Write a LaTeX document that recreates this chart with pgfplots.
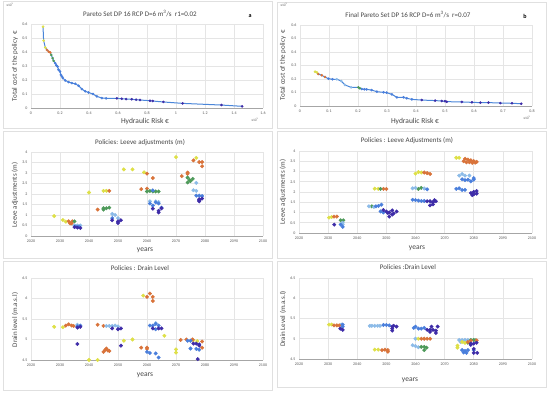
\documentclass[border=0pt]{standalone}
\usepackage{fontspec}
\setmainfont{Carlito}
\usepackage{pgfplots}
\pgfplotsset{compat=1.18}
\definecolor{yel}{RGB}{222,224,70}
\definecolor{ora}{RGB}{217,115,58}
\definecolor{grn}{RGB}{78,154,90}
\definecolor{lbl}{RGB}{140,187,232}
\definecolor{blu}{RGB}{74,127,220}
\definecolor{pur}{RGB}{62,44,168}
\definecolor{lin}{RGB}{74,134,217}
\definecolor{txt}{RGB}{70,70,70}
\pgfplotsset{
  pan/.style={scale only axis, anchor=south west,
    axis x line*=bottom, axis y line*=left,
    x axis line style={draw=black!35,-,line width=0.6pt},
    y axis line style={draw=none},
    grid=major, grid style={draw=black!10,line width=0.5pt},
    major tick length=0pt,
    tick label style={font=\fontsize{4}{4}\selectfont, text=black!65},
    /pgf/number format/assume math mode=true,
    /pgf/number format/1000 sep={},
    scaled ticks=false, clip=false},
  pm/.style={only marks, mark=*, mark size=1.75pt},
  pp/.style={only marks, mark=*, mark size=1.1pt},
  yrs/.style={xmin=2020,xmax=2100,xtick={2020,2030,2040,2050,2060,2070,2080,2090,2100}},
}
\newcommand{\ttl}[3]{\node[font=\fontsize{7}{8}\selectfont, text=txt] at (#1pt,#2pt) {#3};}
\newcommand{\lab}[3]{\node[font=\fontsize{7.5}{8}\selectfont, text=txt] at (#1pt,#2pt) {#3};}
\newcommand{\ylab}[3]{\node[font=\fontsize{7}{8}\selectfont, text=txt, rotate=90] at (#1pt,#2pt) {#3};}
\newcommand{\sml}[3]{\node[font=\fontsize{3.5}{4}\selectfont, text=black!65] at (#1pt,#2pt) {#3};}
\begin{document}
\begin{tikzpicture}[x=1pt,y=1pt]
\useasboundingbox (0,0) rectangle (550,393);
\fill[white] (0,0) rectangle (550,393);
% panel frames
\draw[black!12,line width=0.6pt] (3,265) rectangle (272,392);
\draw[black!12,line width=0.6pt] (277,265) rectangle (546,391);
\draw[black!12,line width=0.6pt] (3,135) rectangle (272,262);
\draw[black!12,line width=0.6pt] (277,135) rectangle (546,262);
\draw[black!12,line width=0.6pt] (3,3) rectangle (272,132);
\draw[black!12,line width=0.6pt] (277,6) rectangle (546,132);

% ---------------- panel a
\begin{axis}[pan, at={(31pt,285pt)}, width=232pt, height=84pt,
  xmin=0,xmax=1.6,ymin=0,ymax=0.6,
  xtick={0,0.2,0.4,0.6,0.8,1,1.2,1.4,1.6}, ytick={0,0.1,0.2,0.3,0.4,0.5,0.6}]
\addplot[lin, line width=1pt, no marks] coordinates {
(0.083,0.581)(0.087,0.481)(0.099,0.432)(0.110,0.415)(0.122,0.403)(0.133,0.396)
(0.140,0.379)(0.149,0.356)(0.156,0.337)(0.167,0.320)(0.183,0.296)(0.190,0.273)
(0.200,0.261)(0.206,0.237)(0.220,0.213)(0.236,0.197)(0.259,0.185)(0.282,0.178)
(0.305,0.173)(0.328,0.159)(0.351,0.135)(0.374,0.119)(0.397,0.111)(0.427,0.100)
(0.454,0.083)(0.489,0.071)(0.518,0.069)(0.592,0.069)(0.626,0.066)(0.656,0.064)
(0.695,0.062)(0.725,0.059)(0.752,0.057)(0.821,0.052)(0.839,0.050)(0.913,0.043)
(1.046,0.033)(1.314,0.021)(1.456,0.012)};
\addplot[pp, blu] coordinates {
(0.167,0.320)(0.175,0.305)(0.183,0.296)(0.190,0.273)(0.200,0.261)(0.206,0.237)(0.213,0.225)
(0.220,0.213)(0.236,0.197)(0.259,0.185)(0.282,0.178)(0.305,0.173)(0.328,0.159)
(0.351,0.135)(0.374,0.119)(0.397,0.111)(0.427,0.100)(0.454,0.083)(0.489,0.071)(0.518,0.069)};
\addplot[pp, pur] coordinates {
(0.592,0.069)(0.626,0.066)(0.656,0.064)(0.695,0.062)(0.725,0.059)(0.752,0.057)
(0.821,0.052)(0.839,0.050)(0.913,0.043)(1.046,0.033)(1.314,0.021)(1.456,0.012)};
\addplot[pp, ora] coordinates {(0.110,0.415)(0.122,0.403)(0.133,0.396)};
\addplot[pp, grn] coordinates {(0.140,0.379)(0.149,0.356)(0.156,0.337)};
\addplot[pp, yel] coordinates {(0.083,0.581)(0.087,0.481)(0.099,0.432)};
\end{axis}

% ---------------- panel b
\begin{axis}[pan, at={(300pt,287pt)}, width=232pt, height=81pt,
  xmin=0,xmax=0.8,ymin=0,ymax=0.6,
  xtick={0,0.1,0.2,0.3,0.4,0.5,0.6,0.7,0.8}, ytick={0,0.1,0.2,0.3,0.4,0.5,0.6}]
\addplot[lin, line width=1pt, no marks] coordinates {
(0.052,0.254)(0.058,0.249)(0.063,0.237)(0.075,0.227)(0.086,0.215)(0.098,0.202)
(0.112,0.198)(0.127,0.198)(0.142,0.185)(0.155,0.156)(0.176,0.138)(0.201,0.138)
(0.213,0.126)(0.230,0.123)(0.247,0.118)(0.265,0.106)(0.288,0.101)(0.299,0.099)
(0.317,0.086)(0.334,0.064)(0.357,0.064)(0.368,0.057)(0.386,0.049)(0.420,0.044)
(0.466,0.040)(0.489,0.037)(0.506,0.032)(0.558,0.030)(0.593,0.027)(0.622,0.025)
(0.650,0.025)(0.691,0.022)(0.731,0.020)(0.763,0.017)};
\addplot[pp, blu] coordinates {
(0.098,0.202)(0.112,0.198)(0.213,0.126)(0.222,0.124)(0.230,0.123)(0.247,0.118)(0.265,0.106)
(0.288,0.101)(0.299,0.099)(0.317,0.086)(0.334,0.064)(0.357,0.064)(0.368,0.057)(0.386,0.049)};
\addplot[pp, pur] coordinates {
(0.420,0.044)(0.466,0.040)(0.489,0.037)(0.500,0.036)(0.506,0.032)(0.558,0.030)(0.593,0.027)
(0.622,0.025)(0.650,0.025)(0.691,0.022)(0.731,0.020)(0.763,0.017)};
\addplot[pp, lbl] coordinates {(0.127,0.198)(0.142,0.185)(0.155,0.156)(0.176,0.138)};
\addplot[pp, grn] coordinates {(0.201,0.138)(0.206,0.132)};
\addplot[pp, ora] coordinates {(0.063,0.237)(0.075,0.227)(0.086,0.215)};
\addplot[pp, yel] coordinates {(0.052,0.254)(0.058,0.249)};
\end{axis}

% ---------------- panel c
\begin{axis}[pan, yrs, at={(31pt,157pt)}, width=232pt, height=84pt,
  ymin=0,ymax=4, ytick={0,0.5,1,1.5,2,2.5,3,3.5,4}]
\addplot[pm, yel] coordinates {(2028,0.95)(2031,0.76)(2032,0.68)(2040,2.07)(2045,2.15)(2046,2.15)(2052,3.17)(2055,3.17)(2059,3.03)(2070,3.76)(2077,3.72)};
\addplot[pm, ora] coordinates {(2033,0.7)(2033.5,0.6)(2034,0.6)(2034.3,0.7)(2043,1.26)(2047,2.15)(2058,2.23)(2060,2.97)(2060,2.26)(2062,2.76)(2076,3.6)(2078,3.52)(2079,3.52)(2079,3.32)(2072,2.85)(2074,3.02)(2074,2.96)};
\addplot[pm, grn] coordinates {(2035,0.7)(2045,1.32)(2046,1.32)(2047,1.35)(2045,1.26)(2060,2.12)(2061,2.14)(2062,2.12)(2063,2.12)(2064,2.12)(2074,2.78)(2074.7,2.66)(2075.8,2.72)(2074,2.55)(2075,2.62)};
\addplot[pm, lbl] coordinates {(2035,0.5)(2036,0.5)(2037,0.5)(2048,1.05)(2049,1.0)(2050,0.85)(2061,1.65)(2063,1.65)(2064,1.62)(2077,2.53)(2076,2.18)(2077,2.15)};
\addplot[pm, blu] coordinates {(2035.5,0.45)(2036.5,0.45)(2048,0.85)(2061,1.55)(2062,1.45)(2064,1.55)(2063,1.6)(2065,1.35)(2062,2.17)(2077,1.92)(2078,1.92)(2079,1.9)};
\addplot[pm, pur] coordinates {(2035,0.42)(2036,0.4)(2037,0.38)(2048,0.75)(2050,0.62)(2051,0.75)(2050,0.7)(2062,1.3)(2064,1.2)(2064,1.12)(2065,1.32)(2078,1.7)(2078,1.75)(2079,1.78)(2078,1.65)};
\end{axis}

% ---------------- panel d
\begin{axis}[pan, yrs, at={(299pt,160pt)}, width=233pt, height=82pt,
  ymin=0,ymax=4, ytick={0,0.5,1,1.5,2,2.5,3,3.5,4}]
\addplot[pm, yel] coordinates {(2030.3,0.75)(2031.2,0.78)(2046,2.16)(2047.2,2.15)(2060,2.9)(2061,2.97)(2062,2.95)(2074,3.67)(2075,3.67)};
\addplot[pm, ora] coordinates {(2032,0.8)(2033,0.8)(2049,2.15)(2050,2.15)(2063,2.95)(2064,2.92)(2065,2.88)(2077,3.62)(2078,3.58)(2079,3.55)(2080,3.5)(2081,3.47)(2076.5,3.5)(2077.5,3.45)(2078.5,3.45)(2079.5,3.42)(2080.5,3.43)};
\addplot[pm, grn] coordinates {(2034.3,0.62)(2035.2,0.62)(2045,1.3)(2061,2.15)(2062,2.2)(2048,2.15)};
\addplot[pm, lbl] coordinates {(2035,0.5)(2044,1.3)(2045.7,1.27)(2059,2.18)(2060,2.2)(2063,2.17)(2075,2.8)(2076,2.88)(2077,2.8)(2078.5,2.8)(2035,0.42)};
\addplot[pm, blu] coordinates {(2034.3,0.41)(2035,0.3)(2046.4,1.3)(2047.3,1.32)(2048.3,1.38)(2048,1.05)(2049,1.0)(2059,1.62)(2060,1.6)(2061,1.58)(2062,1.56)(2063,1.56)(2064,2.13)(2076,2.62)(2077,2.58)(2078,2.6)(2079,2.52)(2080,2.6)(2080,2.68)(2074,2.15)(2075,2.18)(2076,2.1)(2077,2.1)};
\addplot[pm, pur] coordinates {(2032.1,0.41)(2050,1.05)(2050.5,0.98)(2051,1.0)(2052,1.1)(2052.5,0.95)(2053.5,1.05)(2051,0.8)(2052,0.9)(2049,1.12)(2064,1.55)(2065,1.55)(2066,1.5)(2067,1.55)(2065,1.35)(2066,1.4)(2066.5,1.6)(2079,1.95)(2079.5,1.85)(2080,2.0)(2081,2.05)(2081,1.92)(2080,1.88)};
\end{axis}

% ---------------- panel e
\begin{axis}[pan, yrs, at={(31pt,33pt)}, width=232pt, height=82pt,
  ymin=4.5,ymax=6.5, ytick={4.5,5,5.5,6,6.5}]
\addplot[pm, yel] coordinates {(2028,5.31)(2031,5.3)(2040,4.5)(2043,4.5)(2052,4.97)(2055,5.0)(2058.7,6.07)(2066,5.09)(2070,4.76)(2070,4.68)(2076,4.98)(2077.3,4.96)};
\addplot[pm, ora] coordinates {(2032,5.34)(2033,5.37)(2034,5.34)(2034.7,5.33)(2043,5.36)(2045,5.33)(2045,4.7)(2046,4.78)(2046.5,4.73)(2047,4.72)(2045.5,4.74)(2058,4.8)(2060,4.8)(2060,4.77)(2060,6.04)(2061,6.12)(2062,6.04)(2062,5.94)(2071.6,4.99)(2073.6,5.0)(2075.7,5.0)(2079,4.95)(2079,4.8)};
\addplot[pm, lbl] coordinates {(2036,5.36)(2046,5.33)(2047,5.33)(2048,5.33)(2049,5.34)(2050,5.32)(2063,5.4)};
\addplot[pm, blu] coordinates {(2036,5.32)(2037,5.34)(2061,5.34)(2062,5.34)(2063,5.38)(2064,5.34)(2063,5.25)(2060,4.7)(2061,4.67)(2063,4.66)(2064,4.56)(2074,4.97)(2075,4.97)(2075,4.78)(2077,4.77)(2078,4.75)};
\addplot[pm, pur] coordinates {(2036,5.29)(2037,5.31)(2036,4.89)(2048,5.27)(2050,5.25)(2051,5.27)(2051,4.85)(2062,5.27)(2064,5.27)(2065,5.27)(2076,4.9)(2077,4.9)(2078,4.85)(2078,4.88)(2077.5,4.52)};
\end{axis}

% ---------------- panel f
\begin{axis}[pan, yrs, at={(299pt,34pt)}, width=233pt, height=81pt,
  ymin=4.5,ymax=6.5, ytick={4.5,5,5.5,6,6.5}]
\addplot[pm, lbl] coordinates {(2034.5,5.35)(2044.3,5.32)(2045,5.32)(2046,5.32)(2047,5.32)(2047.8,5.32)(2060,5.0)(2059,4.84)(2060,4.82)(2061,4.79)(2075,4.97)(2076,4.97)(2077,4.97)(2078,4.97)(2075.5,4.92)(2076.8,4.92)};
\addplot[pm, grn] coordinates {(2062,4.8)(2063,4.8)(2063.8,4.78)(2063,4.72)(2079,4.97)(2080,4.97)(2080.6,4.96)(2078,4.9)};
\addplot[pm, yel] coordinates {(2030.3,5.35)(2031.2,5.35)(2046,4.73)(2047.2,4.73)(2061,5.0)(2074.4,4.83)(2074.4,4.78)(2076,4.92)(2077,4.9)};
\addplot[pm, ora] coordinates {(2032,5.33)(2033,5.33)(2033.8,5.33)(2048.5,4.72)(2049.5,4.73)(2050.5,4.72)(2050.5,4.68)(2062,5.0)(2063,5.0)(2064,5.0)(2065,5.0)(2081,4.96)(2078,4.92)(2079,4.95)};
\addplot[pm, blu] coordinates {(2035,5.35)(2035,5.3)(2049,5.34)(2050,5.34)(2051,5.33)(2059.4,5.27)(2060,5.3)(2061,5.25)(2062,5.25)(2063,5.27)(2076,4.72)(2077,4.7)(2078,4.72)(2077.5,4.65)(2076.5,4.66)(2080,4.72)};
\addplot[pm, pur] coordinates {(2034.2,5.25)(2035,5.22)(2052,5.3)(2052,5.25)(2052,5.2)(2053.5,5.3)(2052.5,5.32)(2064,5.22)(2065,5.22)(2066,5.22)(2065.5,5.3)(2067,5.2)(2067,5.14)(2067.6,5.3)(2065,5.17)(2079,4.85)(2080,4.88)(2081,4.9)(2080,4.75)(2080,4.65)(2081.2,4.65)(2079,4.88)};
\end{axis}

% ---------------- texts
\ttl{140}{379}{Pareto Set DP 16 RCP D=6 m\textsuperscript{3}/s\ \ r1=0.02}
\node[font=\bfseries\fontsize{6}{6}\selectfont] at (250pt,377pt) {a};
\sml{10}{388}{x10\textsuperscript{5}}
\sml{255}{273}{x10\textsuperscript{5}}
\ylab{15}{327}{Total cost of the policy\ \ €}
\lab{145}{271}{Hydraulic Risk €}

\ttl{408}{378}{Final Pareto Set DP 16 RCP D=6 m\textsuperscript{3}/s\ \ r=0.07}
\node[font=\bfseries\fontsize{6}{6}\selectfont] at (525pt,377pt) {b};
\sml{284}{388}{x10\textsuperscript{5}}
\sml{527}{275}{x10\textsuperscript{5}}
\ylab{283}{328}{Total cost of the policy\ \ €}
\lab{415}{271}{Hydraulic Risk €}

\ttl{140}{250}{Policies: Leeve adjustments (m)}
\ylab{15}{198}{Leeve adjustments (m)}
\lab{145}{143}{years}

\ttl{407}{252}{Policies : Leeve Adjustments (m)}
\ylab{283}{201}{Leeve adjustments (m)}
\lab{417}{145}{years}

\ttl{140}{125}{Policies : Drain Level}
\ylab{15}{73}{Drain level (m.a.s.l)}
\lab{145}{18}{years}

\ttl{408}{126}{Policies :Drain Level}
\ylab{283}{74}{Drain Level (m.a.s.l)}
\lab{410}{13}{years}
\end{tikzpicture}
\end{document}
